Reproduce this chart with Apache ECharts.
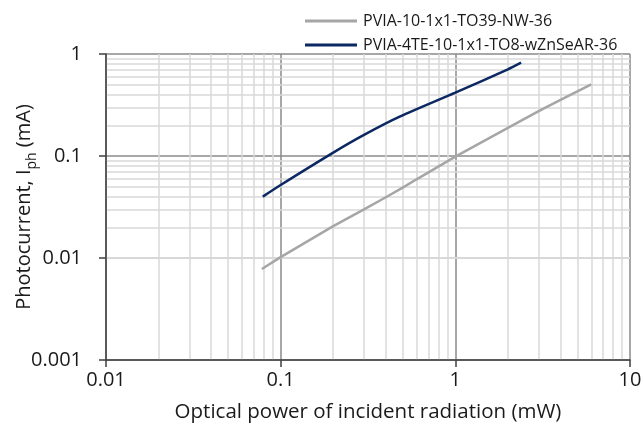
<!DOCTYPE html>
<html><head><meta charset="utf-8">
<script src="https://cdn.jsdelivr.net/npm/echarts@6/dist/echarts.min.js"></script>
<style>html,body{margin:0;padding:0;background:#fff}#c{width:643px;height:436px}</style>
</head><body><div id="c"></div>
<script>
// Data (x: mW, y: mA)
const seriesNames = ['PVIA-10-1x1-TO39-NW-36', 'PVIA-4TE-10-1x1-TO8-wZnSeAR-36'];
const grayX = [0.078, 0.1, 0.2, 0.3, 0.4, 0.5, 0.6, 1.0, 2.0, 3.0, 4.0, 5.0, 6.0];
const grayY = [0.0078, 0.0102, 0.0205, 0.030, 0.0394, 0.0489, 0.0591, 0.0985, 0.189, 0.275, 0.355, 0.43, 0.505];
const navyX = [0.079, 0.1, 0.2, 0.3, 0.48, 1.0, 2.0, 2.38];
const navyY = [0.040, 0.052, 0.108, 0.161, 0.243, 0.418, 0.708, 0.822];
const xTicks = [0.01, 0.1, 1, 10];
const yTicks = [0.001, 0.01, 0.1, 1];
const minorMult = [2, 3, 4, 5, 6, 7, 8, 9];

const xMinor = [];
for (let i = 0; i < xTicks.length - 1; i++) minorMult.forEach(m => xMinor.push(+(xTicks[i] * m).toPrecision(3)));
const yMinor = [];
for (let i = 0; i < yTicks.length - 1; i++) minorMult.forEach(m => yMinor.push(+(yTicks[i] * m).toPrecision(3)));

const FONT = 'Open Sans';
const TXT = '#1a1a1a';
const chart = echarts.init(document.getElementById('c'));
const fmt = v => String(+v.toPrecision(3));
chart.setOption({
  animation: false,
  grid: { left: 106, right: 13, top: 54, bottom: 76, containLabel: false, outerBoundsMode: 'none' },
  legend: {
    orient: 'vertical', left: 300, top: 5, itemWidth: 52, itemHeight: 3, itemGap: 2,
    icon: 'rect',
    textStyle: { fontFamily: FONT, fontSize: 16, color: TXT, lineHeight: 22, padding: [0, 0, 0, 1] },
    data: seriesNames
  },
  xAxis: {
    type: 'log', logBase: 10, min: 0.01, max: 10,
    name: 'Optical power of incident radiation (mW)', nameLocation: 'middle', nameGap: 42,
    nameMoveOverlap: false,
    nameTextStyle: { fontFamily: FONT, fontSize: 20.5, color: TXT },
    axisLine: { lineStyle: { color: '#404040', width: 1.5 } },
    axisTick: { show: true, length: 7, lineStyle: { color: '#404040', width: 1.5 } },
    axisLabel: { fontFamily: FONT, fontSize: 20, color: TXT, margin: 10, formatter: fmt },
    splitLine: { show: true, lineStyle: { color: '#8a8a8a', width: 1.5 } }
  },
  yAxis: {
    type: 'log', logBase: 10, min: 0.001, max: 1,
    name: '{a|Photocurrent, I}{b|ph}{a| (mA)}', nameLocation: 'middle', nameGap: 72, nameRotate: 90,
    nameMoveOverlap: false,
    nameTextStyle: {
      fontFamily: FONT, fontSize: 20, color: TXT,
      rich: {
        a: { fontFamily: FONT, fontSize: 20, color: TXT, lineHeight: 26, verticalAlign: 'bottom' },
        b: { fontFamily: FONT, fontSize: 14, color: TXT, lineHeight: 26, verticalAlign: 'bottom', padding: [0, 0, -5, 0] }
      }
    },
    axisLine: { show: true, lineStyle: { color: '#404040', width: 1.5 } },
    axisTick: { show: true, length: 7, lineStyle: { color: '#404040', width: 1.5 } },
    axisLabel: { fontFamily: FONT, fontSize: 20, color: TXT, margin: 24, formatter: fmt },
    splitLine: { show: true, lineStyle: { color: '#8a8a8a', width: 1.5 } }
  },
  series: [
    {
      type: 'line', name: '_grid', data: [], silent: true, z: 0,
      markLine: {
        z: 0, zlevel: 0,
        silent: true, symbol: 'none', animation: false, label: { show: false },
        lineStyle: { color: '#d9d9d9', width: 1.5, type: 'solid' },
        emphasis: { disabled: true },
        data: xMinor.map(v => ({ xAxis: v })).concat(yMinor.map(v => ({ yAxis: v })))
      }
    },
    {
      type: 'line', name: seriesNames[0], z: 10, symbol: 'none', smooth: false,
      lineStyle: { color: '#a6a6a6', width: 2.5 }, itemStyle: { color: '#a6a6a6' },
      data: grayX.map((x, i) => [x, grayY[i]])
    },
    {
      type: 'line', name: seriesNames[1], z: 10, symbol: 'none', smooth: 0.25,
      lineStyle: { color: '#0b2862', width: 2.5 }, itemStyle: { color: '#0b2862' },
      data: navyX.map((x, i) => [x, navyY[i]])
    }
  ]
});
</script></body></html>
